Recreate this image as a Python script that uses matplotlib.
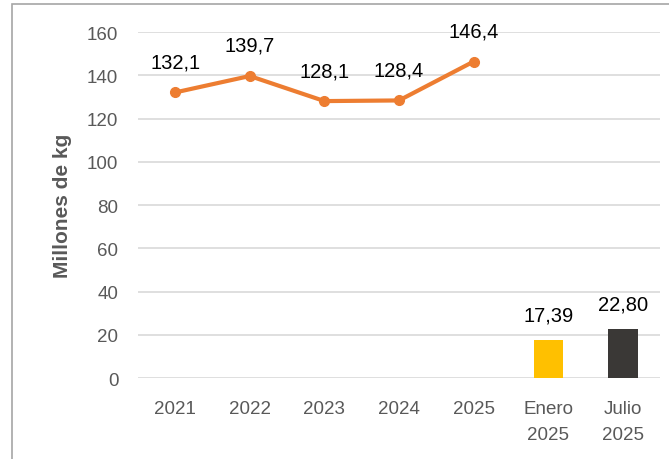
import matplotlib
matplotlib.use("Agg")
from matplotlib import pyplot as plt
from matplotlib.patches import Rectangle

plt.rcParams["font.family"] = ["Liberation Sans", "DejaVu Sans"]

# datos
categorias = ["2021", "2022", "2023", "2024", "2025", "Enero\n2025", "Julio\n2025"]
anual = [132.1, 139.7, 128.1, 128.4, 146.4]
anual_txt = ["132,1", "139,7", "128,1", "128,4", "146,4"]
meses = [17.39, 22.80]
meses_txt = ["17,39", "22,80"]
colores_meses = ["#FFC000", "#3A3836"]


def main():
    fig = plt.figure(figsize=(6.69, 4.6), dpi=100)
    ax = fig.add_axes([0.206, 0.176, 0.781, 0.752])

    # marco del gráfico
    fig.patches.append(Rectangle((12 / 669, -0.05), 1.2, (460 - 5) / 460 + 0.05,
                                 transform=fig.transFigure, fill=False,
                                 edgecolor="#A6A6A6", linewidth=1.2))

    x_linea = list(range(len(anual)))
    x_barras = [len(anual) + i for i in range(len(meses))]

    ax.plot(x_linea, anual, color="#ED7D31", linewidth=3, marker="o",
            markersize=7, zorder=3)
    for x, y, t in zip(x_linea, anual, anual_txt):
        ax.annotate(t, (x, y), xytext=(0, 22), textcoords="offset points",
                    ha="center", va="center", fontsize=14.5, color="black")

    ax.bar(x_barras, meses, width=0.39, color=colores_meses, zorder=3)
    for x, y, t in zip(x_barras, meses, meses_txt):
        ax.annotate(t, (x, y), xytext=(0, 18), textcoords="offset points",
                    ha="center", va="center", fontsize=14.5, color="black")

    ax.set_xlim(-0.5, len(categorias) - 0.5)
    ax.set_ylim(0, 160)
    ax.set_yticks(range(0, 161, 20))
    ax.set_xticks(range(len(categorias)))
    ax.set_xticklabels(categorias, linespacing=1.7)
    ax.tick_params(axis="both", length=0, labelsize=13.5, labelcolor="#595959")
    ax.tick_params(axis="x", pad=16)
    ax.tick_params(axis="y", pad=14)
    ax.grid(axis="y", color="#D9D9D9", linewidth=1.2, zorder=0)
    ax.set_axisbelow(True)
    for s in ax.spines.values():
        s.set_visible(False)

    ax.set_ylabel("Millones de kg", fontsize=15, fontweight="bold",
                  color="#595959", labelpad=11)

    fig.savefig("out.png", dpi=100)


if __name__ == '__main__':
    main()
